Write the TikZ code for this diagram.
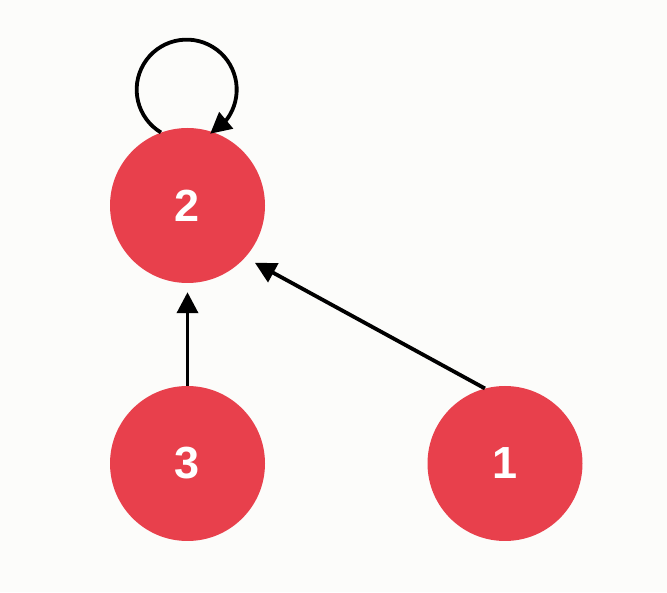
\documentclass[tikz,border=0pt]{standalone}
\usepackage{fontspec}
\setmainfont{Liberation Sans}
\usetikzlibrary{arrows.meta,bending}
\definecolor{nodered}{RGB}{232,64,76}
\definecolor{bgcol}{RGB}{252,252,250}
\begin{document}
\begin{tikzpicture}[x=1pt,y=1pt,
  vert/.style={circle,fill=nodered,draw=none,minimum size=155pt,inner sep=0pt,
    text=white,font=\fontsize{45}{45}\selectfont\bfseries},
  edge/.style={line width=3.8pt,-{Triangle[length=21pt,width=21pt]}}]
\fill[bgcol] (0,0) rectangle (667,592);
\useasboundingbox (0,0) rectangle (667,592);
\node[vert] (n2) at (187.5,386.5) {2};
\node[vert] (n3) at (187.5,128.5) {3};
\node[vert] (n1) at (505,128.5) {1};
\draw[edge] (n2.110) arc[start angle=239,end angle=-62,radius=50pt];
\draw[edge,shorten >=9pt] (n3.north) -- (n2.south);
\draw[edge,shorten >=11pt] (n1.105) -- (n2.-42);
\end{tikzpicture}
\end{document}
